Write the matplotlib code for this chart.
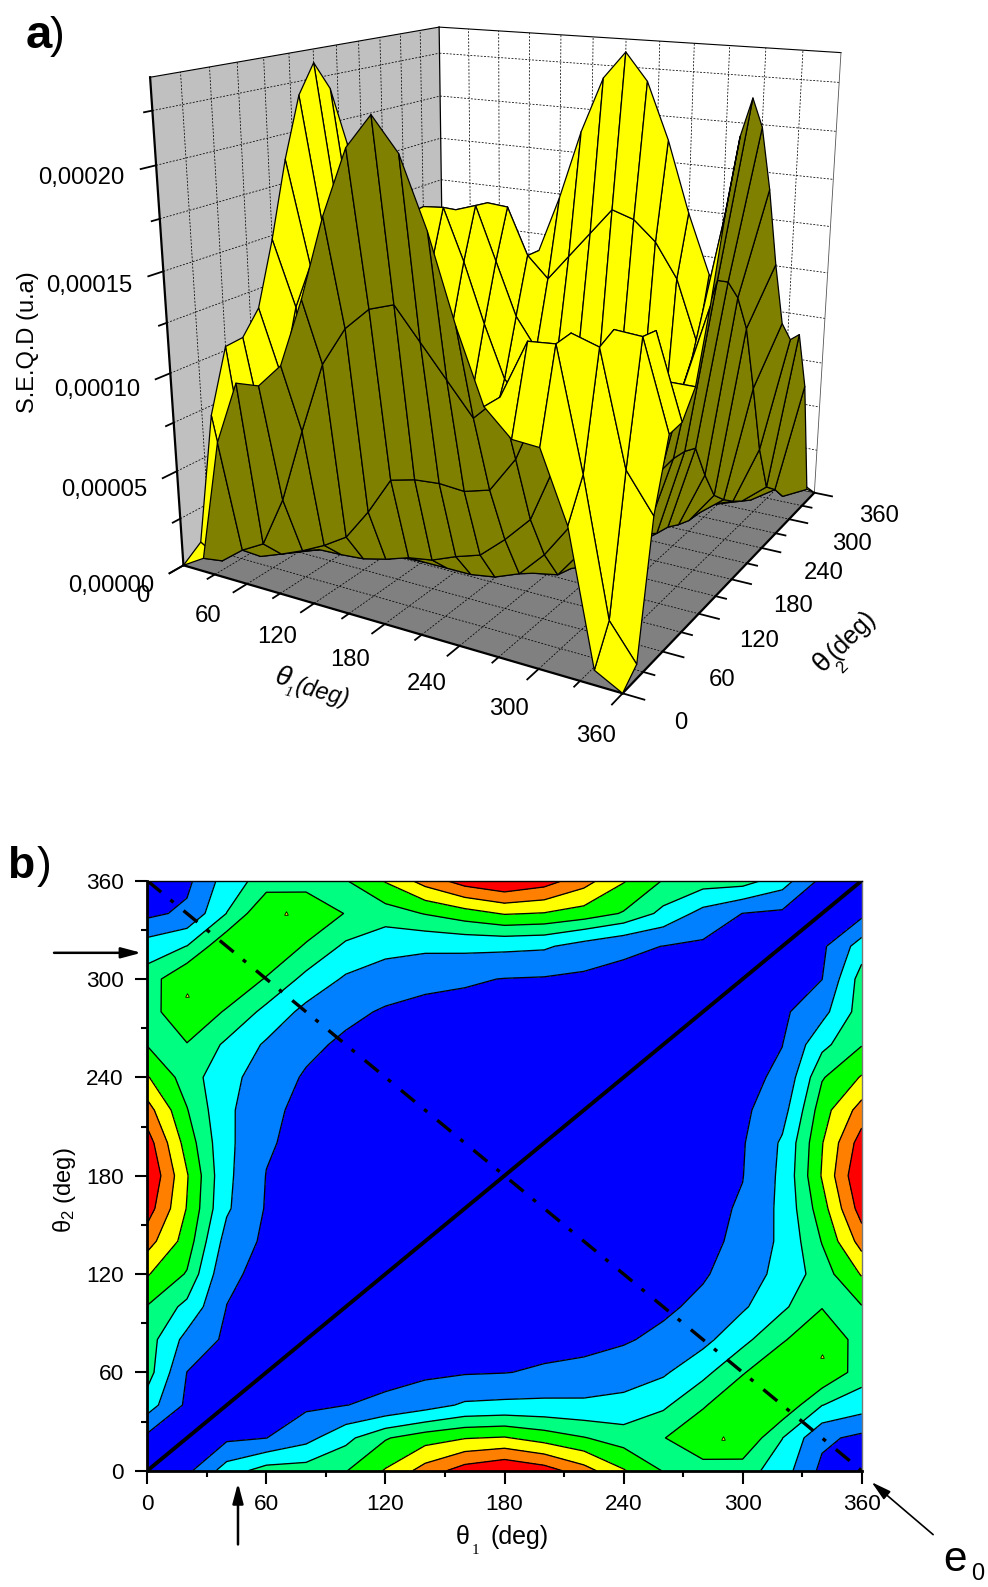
import numpy as np
import matplotlib
matplotlib.use('Agg')
import matplotlib.pyplot as plt
from mpl_toolkits.mplot3d import proj3d
from mpl_toolkits.mplot3d.art3d import Poly3DCollection

plt.rcParams['font.family'] = ['Liberation Sans', 'DejaVu Sans']
plt.rcParams['mathtext.fontset'] = 'custom'
plt.rcParams['mathtext.rm'] = 'Liberation Sans'
plt.rcParams['mathtext.it'] = 'Liberation Sans:italic'

W_PX, H_PX = 988, 1587

# angle grid of the map, deg
theta_nodes = [0, 20, 40, 60, 80, 100, 120, 140, 160, 180, 200, 220, 240, 260, 280, 300, 320, 340, 360]

# S.E.Q.D values in units of 1e-5, rows = theta2, columns = theta1
seqd_e5 = [
    [0, .7, 7.0, 10.2, 10.3, 11.5, 14.8, 18.7, 21.8, 23.3, 21.8, 18.7, 14.8, 11.5, 10.3, 10.2, 7.0, .7, 0],
    [.7, 0, .9, 1.55, 4.15, 7.9, 11.4, 13.3, 14.4, 14.8, 13.3, 11.8, 10.3, 11.5, 14.2, 14.3, 8.8, 2.4, .7],
    [7.0, .9, 0, .45, .95, 1.55, 2.3, 3.9, 5.8, 6.1, 6.2, 6.1, 6.45, 8.2, 11.3, 14.4, 14.0, 8.8, 7.0],
    [10.2, 1.55, .45, 0, .45, .5, .6, .9, 1.3, 1.5, 2.0, 2.4, 3.5, 4.8, 7.9, 11.4, 14.4, 14.3, 10.2],
    [10.3, 4.15, .95, .45, 0, .35, .4, .45, .5, .5, .5, .7, 1.2, 2.5, 4.25, 7.9, 11.3, 14.2, 10.3],
    [11.5, 7.9, 1.55, .5, .35, 0, .2, .25, .3, .3, .4, .5, .65, .9, 2.5, 4.8, 8.2, 11.5, 11.5],
    [14.8, 11.4, 2.3, .6, .4, .2, 0, .1, .1, .1, .15, .2, .3, .65, 1.2, 3.5, 6.45, 10.3, 14.8],
    [18.7, 13.3, 3.9, .9, .45, .25, .1, 0, .05, .05, .05, .1, .2, .5, .7, 2.4, 6.1, 11.8, 18.7],
    [21.8, 14.4, 5.8, 1.3, .5, .3, .1, .05, 0, .03, .03, .05, .15, .4, .5, 2.0, 6.2, 13.3, 21.8],
    [23.3, 14.8, 6.1, 1.5, .5, .3, .1, .05, .03, 0, .03, .05, .1, .3, .5, 1.5, 6.1, 14.8, 23.3],
    [21.8, 13.3, 6.2, 2.0, .5, .4, .15, .05, .03, .03, 0, .05, .1, .3, .5, 1.3, 5.8, 14.4, 21.8],
    [18.7, 11.8, 6.1, 2.4, .7, .5, .2, .1, .05, .05, .05, 0, .1, .25, .45, .9, 3.9, 13.3, 18.7],
    [14.8, 10.3, 6.45, 3.5, 1.2, .65, .3, .2, .15, .1, .1, .1, 0, .2, .4, .6, 2.3, 11.4, 14.8],
    [11.5, 11.5, 8.2, 4.8, 2.5, .9, .65, .5, .4, .3, .3, .25, .2, 0, .35, .5, 1.55, 7.9, 11.5],
    [10.3, 14.2, 11.3, 7.9, 4.25, 2.5, 1.2, .7, .5, .5, .5, .45, .4, .35, 0, .45, .95, 4.15, 10.3],
    [10.2, 14.3, 14.4, 11.4, 7.9, 4.8, 3.5, 2.4, 2.0, 1.5, 1.3, .9, .6, .5, .45, 0, .45, 1.55, 10.2],
    [7.0, 8.8, 14.0, 14.4, 11.3, 8.2, 6.45, 6.1, 6.2, 6.1, 5.8, 3.9, 2.3, 1.55, .95, .45, 0, .9, 7.0],
    [.7, 2.4, 8.8, 14.3, 14.2, 11.5, 10.3, 11.8, 13.3, 14.8, 14.4, 13.3, 11.4, 7.9, 4.15, 1.55, .9, 0, .7],
    [0, .7, 7.0, 10.2, 10.3, 11.5, 14.8, 18.7, 21.8, 23.3, 21.8, 18.7, 14.8, 11.5, 10.3, 10.2, 7.0, .7, 0],
]

z_top = 24.0
z_major = [0, 5, 10, 15, 20]
z_major_labels = ['0,00000', '0,00005', '0,00010', '0,00015', '0,00020']
z_minor = [2.5, 7.5, 12.5, 17.5, 22.5]
angle_major = [0, 60, 120, 180, 240, 300, 360]
angle_minor = [30, 90, 150, 210, 270, 330]

contour_levels = [0, 1.6, 5.3, 8.74, 11.65, 14.56, 17.48, 20.39, 23.3]
contour_colors = ['#0000ff', '#0080ff', '#00ffff', '#00ff80', '#00ff00', '#ffff00', '#ff8000', '#ff0000']
# small closed contours on top of the side lobes
lobe_t1 = [20, 70, 290, 340]
lobe_t2 = [290, 340, 20, 70]


def fpos(x, y):
    return x / W_PX, 1 - y / H_PX


def ftext(x, y, s, **kw):
    kw.setdefault('ha', 'center')
    kw.setdefault('va', 'center')
    fig.text(*fpos(x, y), s, **kw)


fig = plt.figure(figsize=(W_PX / 100, H_PX / 100), dpi=100)
Z = np.array(seqd_e5)
T1, T2 = np.meshgrid(theta_nodes, theta_nodes)

# ---- a) surface
size = 810
left, top = 100, -88
ax = fig.add_axes([left / W_PX, 1 - (top + size) / H_PX, size / W_PX, size / H_PX],
                  projection='3d', computed_zorder=False)
ax.set_box_aspect((1, 1, 1))
ax.set_proj_type('persp', focal_length=0.3466)
ax.view_init(elev=16.5, azim=-60.2)
ax.set_xlim(0, 360, view_margin=0)
ax.set_ylim(0, 360, view_margin=0)
ax.set_zlim(0, z_top, view_margin=0)
ax.set_axis_off()
M = ax.get_proj()


def text3(x, y, z, s, **kw):
    # label at a projected 3D point
    xp, yp, _ = proj3d.proj_transform(x, y, z, M)
    ax.text2D(xp, yp, s, transform=ax.transData, zorder=7, **kw)


floor = [(0, 0, 0), (360, 0, 0), (360, 360, 0), (0, 360, 0)]
left_wall = [(0, 0, 0), (0, 360, 0), (0, 360, z_top), (0, 0, z_top)]
back_wall = [(0, 360, 0), (360, 360, 0), (360, 360, z_top), (0, 360, z_top)]
ax.add_collection3d(Poly3DCollection([floor], facecolor='#808080', edgecolor='none', zorder=1))
ax.add_collection3d(Poly3DCollection([left_wall], facecolor='#c0c0c0', edgecolor='none', zorder=1))
ax.add_collection3d(Poly3DCollection([back_wall], facecolor='white', edgecolor='none', zorder=1))

grid_kw = dict(color='black', lw=0.55, ls=(0, (2.5, 2)), zorder=2)
for a in sorted(angle_major + angle_minor)[1:-1]:
    ax.plot([a, a], [0, 360], [0, 0], **grid_kw)
    ax.plot([0, 360], [a, a], [0, 0], **grid_kw)
    ax.plot([0, 0], [a, a], [0, z_top], **grid_kw)
    ax.plot([a, a], [360, 360], [0, z_top], **grid_kw)
for z in sorted(z_major + z_minor)[1:]:
    ax.plot([0, 0], [0, 360], [z, z], **grid_kw)
    ax.plot([0, 360], [360, 360], [z, z], **grid_kw)

edge_kw = dict(color='black', zorder=3)
ax.plot([0, 360], [0, 0], [0, 0], lw=1.6, **edge_kw)
ax.plot([360, 360], [0, 360], [0, 0], lw=1.6, **edge_kw)
ax.plot([0, 0], [0, 0], [0, z_top], lw=1.6, **edge_kw)
ax.plot([0, 0], [360, 360], [0, z_top], lw=0.9, **edge_kw)
ax.plot([0, 0], [0, 360], [z_top, z_top], lw=0.8, **edge_kw)
ax.plot([0, 360], [360, 360], [z_top, z_top], lw=0.8, **edge_kw)
ax.plot([360, 360], [360, 360], [0, z_top], lw=0.6, color='#555555', zorder=3)
ax.plot([0, 0], [0, 360], [0, 0], lw=0.6, **edge_kw)
ax.plot([0, 360], [360, 360], [0, 0], lw=0.6, **edge_kw)

# ticks continue the grid lines outwards
for a in angle_major + angle_minor:
    n = 15 if a in angle_major else 8
    ax.plot([a, a], [0, -n], [0, 0], lw=1.3, **edge_kw)
    ax.plot([360, 360 + n], [a, a], [0, 0], lw=1.3, **edge_kw)
for z in z_major + z_minor:
    n = 15 if z in z_major else 8
    ax.plot([0, 0], [0, -n], [z, z], lw=1.3, **edge_kw)

# faces are yellow on top, olive underneath, depending on the side seen
px, py, _ = proj3d.proj_transform(T1.ravel(), T2.ravel(), Z.ravel(), M)
px = px.reshape(Z.shape)
py = py.reshape(Z.shape)
face_cols = np.zeros(Z.shape + (4,))
for j in range(Z.shape[0] - 1):
    for i in range(Z.shape[1] - 1):
        xs = [px[j, i], px[j, i + 1], px[j + 1, i + 1], px[j + 1, i]]
        ys = [py[j, i], py[j, i + 1], py[j + 1, i + 1], py[j + 1, i]]
        area = sum(xs[k] * ys[(k + 1) % 4] - xs[(k + 1) % 4] * ys[k] for k in range(4))
        face_cols[j, i] = (1, 1, 0, 1) if area > 0 else (0.5, 0.5, 0, 1)

ax.plot_surface(T1, T2, Z, rstride=1, cstride=1, facecolors=face_cols, shade=False,
                edgecolor='black', linewidth=0.9, antialiased=True, zorder=5)

for z, lab in zip(z_major, z_major_labels):
    text3(0, -31, z - 0.22, lab, ha='right', va='center', fontsize=17.2)
for a in angle_major:
    text3(a + 6, -49, -0.1, str(a), ha='center', va='center', fontsize=17.2)
    text3(400 + a * 0.04, a, -0.6, str(a), ha='center', va='center', fontsize=17.2)

ftext(28, 342, 'S.E.Q.D (u.a)', rotation=90, fontsize=17)
ftext(283, 678, 'θ', style='italic', fontsize=20, rotation=-15)
ftext(288, 693, '1', style='italic', fontsize=11, family='Liberation Serif', rotation=-15)
ftext(322, 693, '(deg)', style='italic', fontsize=17, rotation=-15)
ftext(823, 663, 'θ', fontsize=20, rotation=45)
ftext(842, 668, '2', fontsize=12, rotation=45)
ftext(852, 635, '(deg)', fontsize=18, rotation=45)

ftext(26, 48, 'a', fontsize=34, fontweight='bold', ha='left', va='baseline')
ftext(50, 48, ')', fontsize=32, ha='left', va='baseline')
ftext(7, 878, 'b', fontsize=32, fontweight='bold', ha='left', va='baseline')
ftext(37, 878, ')', fontsize=32, ha='left', va='baseline')

# ---- b) contour map
ax2 = fig.add_axes([147.3 / W_PX, 1 - 1470.7 / H_PX, 714.4 / W_PX, 590 / H_PX])
ax2.contourf(T1, T2, Z, levels=contour_levels, colors=contour_colors)
ax2.contour(T1, T2, Z, levels=contour_levels[1:-1], colors='black', linewidths=0.95)
ax2.plot(lobe_t1, lobe_t2, ls='none', marker='^', ms=2.6, mfc='#ffff00', mec='black', mew=0.6)
ax2.plot([0, 360], [0, 360], color='black', lw=2.8)
ax2.plot([0, 360], [360, 0], color='black', lw=2.4, ls=(0, (5.4, 3.6, 1.2, 3.9)))

ax2.set_xlim(0, 360)
ax2.set_ylim(0, 360)
ax2.set_xticks(angle_major)
ax2.set_yticks(angle_major)
ax2.set_xticks(angle_minor, minor=True)
ax2.set_yticks(angle_minor, minor=True)
ax2.tick_params(which='major', length=9, width=1.5, labelsize=16.2, pad=8)
ax2.tick_params(which='minor', length=4.5, width=1.5)
ax2.spines['left'].set_linewidth(2)
ax2.spines['bottom'].set_linewidth(2)
ax2.spines['top'].set_linewidth(1)
ax2.spines['right'].set_linewidth(1)
ax2.spines['right'].set_color('#777777')

ftext(463, 1537, 'θ', fontsize=18)
ftext(475, 1550, '1', fontsize=11, family='Liberation Serif')
ftext(520, 1537, '(deg)', fontsize=18)
ftext(64, 1190, 'θ$_{2}$ (deg)', rotation=90, fontsize=17)

arrow_kw = dict(arrowstyle='-|>,head_length=1.2,head_width=0.32', color='black', mutation_scale=10,
                shrinkA=0, shrinkB=0)
ax2.annotate('', xy=(-3, 316), xytext=(-47, 316), arrowprops=dict(lw=1.8, **arrow_kw), annotation_clip=False)
ax2.annotate('', xy=(45.7, -7.5), xytext=(45.7, -45), arrowprops=dict(lw=1.8, **arrow_kw), annotation_clip=False)
ax2.annotate('', xy=(365, -7), xytext=(396, -39), arrowprops=dict(lw=1.2, **arrow_kw), annotation_clip=False)
ftext(955, 1560, 'e', fontsize=30.5)
ftext(978, 1574, '0', fontsize=17)

fig.savefig('out.png', dpi=100)
